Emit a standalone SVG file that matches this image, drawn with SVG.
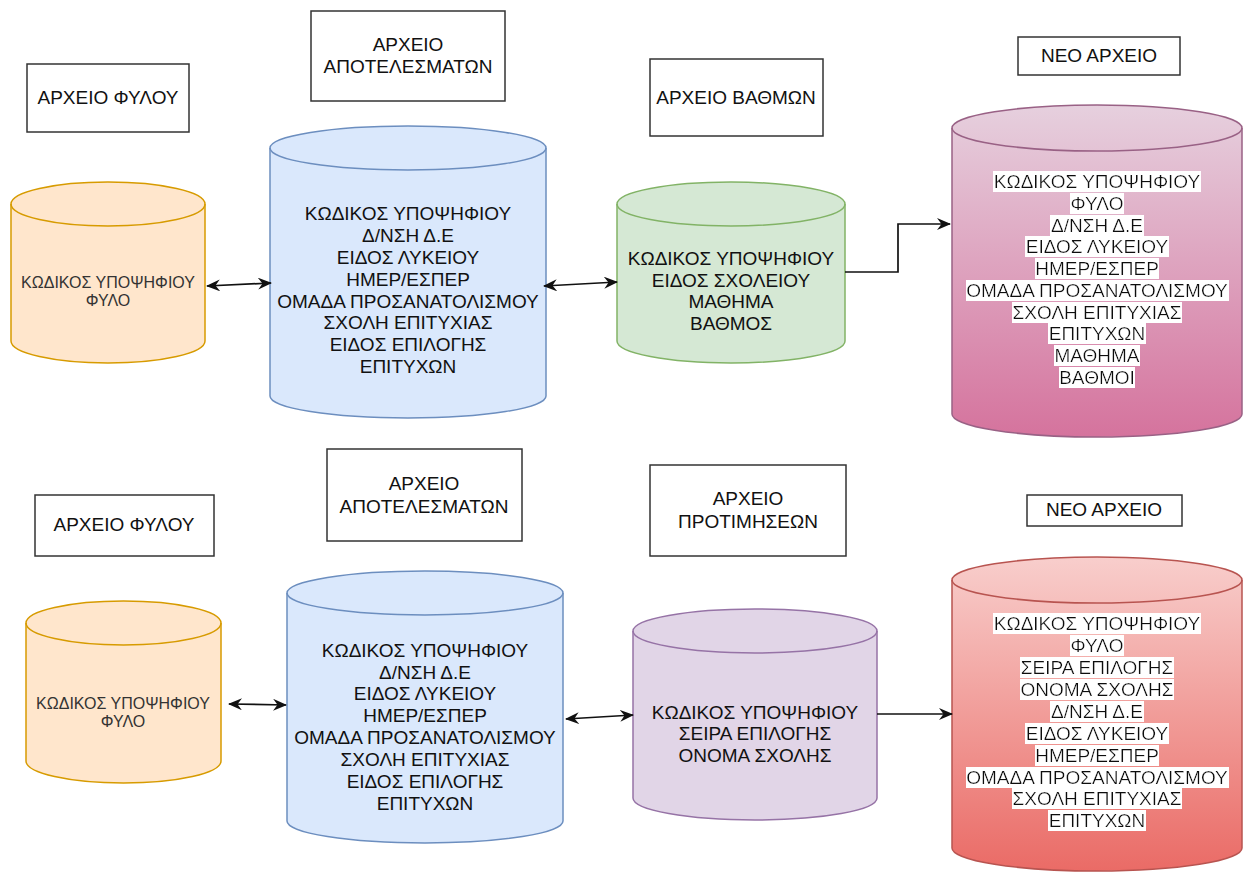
<svg xmlns="http://www.w3.org/2000/svg" width="1248" height="872" viewBox="0 0 1248 872">
<defs>
<style>
.t{font-family:"Liberation Sans",Arial,"DejaVu Sans",sans-serif;font-size:19px;fill:#111;text-anchor:middle}
.s{font-size:16px;fill:#333}
.box{fill:#fff;stroke:#333;stroke-width:1.5}
.cy{stroke-width:1.5}
.yel{fill:#ffe6cc;stroke:#d79b00}
.blu{fill:#dae8fc;stroke:#6c8ebf}
.grn{fill:#d5e8d4;stroke:#82b366}
.pur{fill:#e1d5e7;stroke:#9673a6}
.pnk{fill:url(#gPink);stroke:#996185}
.red{fill:url(#gRed);stroke:#b85450}
.inner{fill:none}
.hl{filter:url(#bgWhite)}
.conn{fill:none;stroke:#111;stroke-width:1.7}
</style>
<linearGradient id="gPink" x1="0" y1="0" x2="0" y2="1">
<stop offset="0" stop-color="#e6d0de"/>
<stop offset="1" stop-color="#d5739d"/>
</linearGradient>
<linearGradient id="gRed" x1="0" y1="0" x2="0" y2="1">
<stop offset="0" stop-color="#f8cecc"/>
<stop offset="1" stop-color="#ea6b66"/>
</linearGradient>
<filter id="bgWhite" x="0" y="0" width="1" height="1">
<feFlood flood-color="#ffffff"/>
<feComposite in="SourceGraphic"/>
</filter>
<marker id="arr" viewBox="0 0 14 12" refX="13" refY="6" markerWidth="14" markerHeight="12" markerUnits="userSpaceOnUse" orient="auto-start-reverse">
<path d="M0,0 L14,6 L0,12 L4.5,6 Z" fill="#111"/>
</marker>
</defs>
<rect width="1248" height="872" fill="#ffffff"/>

<!-- TOP ROW -->
<g id="lbl-fylou-1">
<rect class="box" x="27" y="64" width="162" height="68"/>
<text class="t" x="108" y="104">ΑΡΧΕΙΟ ΦΥΛΟΥ</text>
</g>
<g id="lbl-apotel-1">
<rect class="box" x="311" y="11" width="194" height="90"/>
<text class="t" x="408" y="51">ΑΡΧΕΙΟ</text>
<text class="t" x="408" y="73">ΑΠΟΤΕΛΕΣΜΑΤΩΝ</text>
</g>
<g id="lbl-vathmon">
<rect class="box" x="650" y="59" width="173" height="77"/>
<text class="t" x="736" y="104">ΑΡΧΕΙΟ ΒΑΘΜΩΝ</text>
</g>
<g id="lbl-neo-1">
<rect class="box" x="1018" y="37" width="162" height="38"/>
<text class="t" x="1099" y="62">ΝΕΟ ΑΡΧΕΙΟ</text>
</g>

<g id="cyl-fylou-1">
<path class="cy yel" d="M11,204 A97,22 0 0 1 205,204 L205,341 A97,22 0 0 1 11,341 Z"/>
<path class="cy yel inner" d="M11,204 A97,22 0 0 0 205,204"/>
<text class="t s" x="108" y="288">ΚΩΔΙΚΟΣ ΥΠΟΨΗΦΙΟΥ</text>
<text class="t s" x="108" y="306">ΦΥΛΟ</text>
</g>
<g id="cyl-apotel-1">
<path class="cy blu" d="M270,148 A138,22 0 0 1 546,148 L546,396 A138,22 0 0 1 270,396 Z"/>
<path class="cy blu inner" d="M270,148 A138,22 0 0 0 546,148"/>
<text class="t" x="408" y="220">ΚΩΔΙΚΟΣ ΥΠΟΨΗΦΙΟΥ</text>
<text class="t" x="408" y="242">Δ/ΝΣΗ Δ.Ε</text>
<text class="t" x="408" y="264">ΕΙΔΟΣ ΛΥΚΕΙΟΥ</text>
<text class="t" x="408" y="286">ΗΜΕΡ/ΕΣΠΕΡ</text>
<text class="t" x="408" y="308">ΟΜΑΔΑ ΠΡΟΣΑΝΑΤΟΛΙΣΜΟΥ</text>
<text class="t" x="408" y="329">ΣΧΟΛΗ ΕΠΙΤΥΧΙΑΣ</text>
<text class="t" x="408" y="351">ΕΙΔΟΣ ΕΠΙΛΟΓΗΣ</text>
<text class="t" x="408" y="373">ΕΠΙΤΥΧΩΝ</text>
</g>
<g id="cyl-vathmon">
<path class="cy grn" d="M617,204 A114,22 0 0 1 845,204 L845,341 A114,22 0 0 1 617,341 Z"/>
<path class="cy grn inner" d="M617,204 A114,22 0 0 0 845,204"/>
<text class="t" x="731" y="265">ΚΩΔΙΚΟΣ ΥΠΟΨΗΦΙΟΥ</text>
<text class="t" x="731" y="287">ΕΙΔΟΣ ΣΧΟΛΕΙΟΥ</text>
<text class="t" x="731" y="308">ΜΑΘΗΜΑ</text>
<text class="t" x="731" y="330">ΒΑΘΜΟΣ</text>
</g>
<g id="cyl-neo-1">
<path class="cy pnk" d="M952,128 A145,23 0 0 1 1242,128 L1242,414 A145,23 0 0 1 952,414 Z"/>
<path class="cy pnk inner" d="M952,128 A145,23 0 0 0 1242,128"/>
<text class="t hl" x="1097" y="188">ΚΩΔΙΚΟΣ ΥΠΟΨΗΦΙΟΥ</text>
<text class="t hl" x="1097" y="210">ΦΥΛΟ</text>
<text class="t hl" x="1097" y="232">Δ/ΝΣΗ Δ.Ε</text>
<text class="t hl" x="1097" y="253">ΕΙΔΟΣ ΛΥΚΕΙΟΥ</text>
<text class="t hl" x="1097" y="275">ΗΜΕΡ/ΕΣΠΕΡ</text>
<text class="t hl" x="1097" y="297">ΟΜΑΔΑ ΠΡΟΣΑΝΑΤΟΛΙΣΜΟΥ</text>
<text class="t hl" x="1097" y="319">ΣΧΟΛΗ ΕΠΙΤΥΧΙΑΣ</text>
<text class="t hl" x="1097" y="340">ΕΠΙΤΥΧΩΝ</text>
<text class="t hl" x="1097" y="362">ΜΑΘΗΜΑ</text>
<text class="t hl" x="1097" y="384">ΒΑΘΜΟΙ</text>
</g>

<!-- BOTTOM ROW -->
<g id="lbl-fylou-2">
<rect class="box" x="35" y="495" width="179" height="61"/>
<text class="t" x="124" y="531">ΑΡΧΕΙΟ ΦΥΛΟΥ</text>
</g>
<g id="lbl-apotel-2">
<rect class="box" x="327" y="449" width="195" height="92"/>
<text class="t" x="424" y="490">ΑΡΧΕΙΟ</text>
<text class="t" x="424" y="513">ΑΠΟΤΕΛΕΣΜΑΤΩΝ</text>
</g>
<g id="lbl-protim">
<rect class="box" x="650" y="465" width="196" height="91"/>
<text class="t" x="748" y="505">ΑΡΧΕΙΟ</text>
<text class="t" x="748" y="528">ΠΡΟΤΙΜΗΣΕΩΝ</text>
</g>
<g id="lbl-neo-2">
<rect class="box" x="1027" y="495" width="155" height="31"/>
<text class="t" x="1104" y="516">ΝΕΟ ΑΡΧΕΙΟ</text>
</g>

<g id="cyl-fylou-2">
<path class="cy yel" d="M26,623 A97.5,22 0 0 1 221,623 L221,761 A97.5,22 0 0 1 26,761 Z"/>
<path class="cy yel inner" d="M26,623 A97.5,22 0 0 0 221,623"/>
<text class="t s" x="123" y="709">ΚΩΔΙΚΟΣ ΥΠΟΨΗΦΙΟΥ</text>
<text class="t s" x="123" y="727">ΦΥΛΟ</text>
</g>
<g id="cyl-apotel-2">
<path class="cy blu" d="M287,593 A138,22 0 0 1 563,593 L563,821 A138,22 0 0 1 287,821 Z"/>
<path class="cy blu inner" d="M287,593 A138,22 0 0 0 563,593"/>
<text class="t" x="425" y="657">ΚΩΔΙΚΟΣ ΥΠΟΨΗΦΙΟΥ</text>
<text class="t" x="425" y="679">Δ/ΝΣΗ Δ.Ε</text>
<text class="t" x="425" y="700">ΕΙΔΟΣ ΛΥΚΕΙΟΥ</text>
<text class="t" x="425" y="722">ΗΜΕΡ/ΕΣΠΕΡ</text>
<text class="t" x="425" y="744">ΟΜΑΔΑ ΠΡΟΣΑΝΑΤΟΛΙΣΜΟΥ</text>
<text class="t" x="425" y="766">ΣΧΟΛΗ ΕΠΙΤΥΧΙΑΣ</text>
<text class="t" x="425" y="788">ΕΙΔΟΣ ΕΠΙΛΟΓΗΣ</text>
<text class="t" x="425" y="810">ΕΠΙΤΥΧΩΝ</text>
</g>
<g id="cyl-protim">
<path class="cy pur" d="M633,631 A122,22 0 0 1 877,631 L877,798 A122,22 0 0 1 633,798 Z"/>
<path class="cy pur inner" d="M633,631 A122,22 0 0 0 877,631"/>
<text class="t" x="755" y="719">ΚΩΔΙΚΟΣ ΥΠΟΨΗΦΙΟΥ</text>
<text class="t" x="755" y="740">ΣΕΙΡΑ ΕΠΙΛΟΓΗΣ</text>
<text class="t" x="755" y="762">ΟΝΟΜΑ ΣΧΟΛΗΣ</text>
</g>
<g id="cyl-neo-2">
<path class="cy red" d="M952,580 A145,23 0 0 1 1242,580 L1242,848 A145,23 0 0 1 952,848 Z"/>
<path class="cy red inner" d="M952,580 A145,23 0 0 0 1242,580"/>
<text class="t hl" x="1097" y="630">ΚΩΔΙΚΟΣ ΥΠΟΨΗΦΙΟΥ</text>
<text class="t hl" x="1097" y="652">ΦΥΛΟ</text>
<text class="t hl" x="1097" y="674">ΣΕΙΡΑ ΕΠΙΛΟΓΗΣ</text>
<text class="t hl" x="1097" y="696">ΟΝΟΜΑ ΣΧΟΛΗΣ</text>
<text class="t hl" x="1097" y="718">Δ/ΝΣΗ Δ.Ε</text>
<text class="t hl" x="1097" y="740">ΕΙΔΟΣ ΛΥΚΕΙΟΥ</text>
<text class="t hl" x="1097" y="762">ΗΜΕΡ/ΕΣΠΕΡ</text>
<text class="t hl" x="1097" y="784">ΟΜΑΔΑ ΠΡΟΣΑΝΑΤΟΛΙΣΜΟΥ</text>
<text class="t hl" x="1097" y="805">ΣΧΟΛΗ ΕΠΙΤΥΧΙΑΣ</text>
<text class="t hl" x="1097" y="827">ΕΠΙΤΥΧΩΝ</text>
</g>

<g id="connectors">
<path class="conn" d="M207,286 L271,283" marker-start="url(#arr)" marker-end="url(#arr)"/>
<path class="conn" d="M544,286 L617,282" marker-start="url(#arr)" marker-end="url(#arr)"/>
<path class="conn" d="M845,272 H898 V224 H950" marker-end="url(#arr)"/>
<path class="conn" d="M229,704 L286,705" marker-start="url(#arr)" marker-end="url(#arr)"/>
<path class="conn" d="M566,719 L633,715" marker-start="url(#arr)" marker-end="url(#arr)"/>
<path class="conn" d="M877,714 L952,714" marker-end="url(#arr)"/>
</g>
</svg>
